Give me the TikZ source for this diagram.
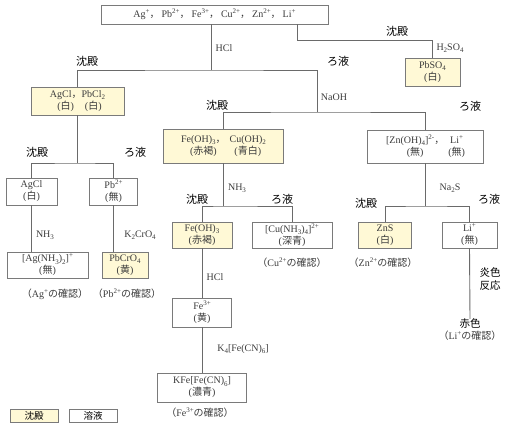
\documentclass[tikz,border=0pt]{standalone}
\usepackage{fontspec}
\setmainfont{Liberation Serif}
\newfontfamily\jp{Noto Sans CJK JP}

\definecolor{boxline}{HTML}{7A7A7A}
\definecolor{linegray}{HTML}{6A6A6A}
\definecolor{pptfill}{HTML}{FFF9D6}
\definecolor{txtgray}{HTML}{3C3C3C}

% 化学式の添字
\newcommand{\chsb}[1]{\raisebox{-0.22em}{\fontsize{7}{7}\selectfont #1}}
\newcommand{\chsp}[1]{\raisebox{0.4em}{\fontsize{7}{7}\selectfont #1}}
\newcommand{\jc}{{\jp ，}\hspace{2pt}}

\tikzset{
  sol/.style={draw=boxline, line width=0.8pt, fill=white, text=txtgray, align=center, inner sep=0pt,
    font=\fontsize{10}{12}\selectfont},
  ppt/.style={sol, fill=pptfill},
  reag/.style={text=txtgray, inner sep=0pt, font=\fontsize{10}{11}\selectfont},
  sep/.style={inner sep=0pt, font=\jp\fontsize{11}{12}\selectfont},
  note/.style={text=txtgray, inner sep=0pt, align=center, font=\fontsize{10}{11}\selectfont},
  link/.style={draw=linegray, line width=0.9pt}
}

\begin{document}
\begin{tikzpicture}[x=1pt,y=-1pt]
  \useasboundingbox (0,0) rectangle (510,430);

  % はじめの溶液
  \node[sol, minimum width=227pt, minimum height=19pt] (ions) at (214.5,14.5)
    {Ag\chsp{+}\jc Pb\chsp{2+}\jc Fe\chsp{3+}\jc Cu\chsp{2+}\jc Zn\chsp{2+}\jc Li\chsp{+}};

  % 分岐点
  \coordinate (j1) at (211,70);
  \coordinate (j2) at (317,112);
  \coordinate (j3) at (77.5,163);
  \coordinate (j4) at (223.5,206);
  \coordinate (j5) at (425.5,206);
  \coordinate (j6) at (297,40);

  % 1段目
  \node[ppt, minimum width=55pt, minimum height=28pt] (pbso4) at (432.5,72)
    {PbSO\chsb{4}\\({\jp 白})};
  \node[ppt, minimum width=93pt, minimum height=28pt] (agpb) at (77.5,101)
    {\begin{tabular}{@{}c@{}c@{}}AgCl\jc & PbCl\chsb{2}\\ ({\jp 白}) & ({\jp 白})\end{tabular}};

  % 2段目
  \node[ppt, minimum width=120pt, minimum height=34pt] (fecu) at (223.5,146)
    {\begin{tabular}{@{}c@{\hspace{4pt}}c@{}}Fe(OH)\chsb{3}\jc & Cu(OH)\chsb{2}\\ ({\jp 赤褐}) & ({\jp 青白})\end{tabular}};
  \node[sol, minimum width=116pt, minimum height=33pt] (zn) at (425.5,146.5)
    {\begin{tabular}{@{}c@{\hspace{4pt}}c@{}}[Zn(OH)\chsb{4}]\chsp{2-}\jc & Li\chsp{+}\\ ({\jp 無}) & ({\jp 無})\end{tabular}};
  \node[sol, minimum width=51pt, minimum height=27pt] (agcl) at (31.5,191.5)
    {AgCl\\({\jp 白})};
  \node[sol, minimum width=48pt, minimum height=27pt] (pb) at (113.5,191.5)
    {Pb\chsp{2+}\\({\jp 無})};

  % 3段目
  \node[ppt, minimum width=60pt, minimum height=26pt] (feoh) at (202,235)
    {Fe(OH)\chsb{3}\\({\jp 赤褐})};
  \node[sol, minimum width=80pt, minimum height=26pt] (cunh) at (292,235)
    {[Cu(NH\chsb{3})\chsb{4}]\chsp{2+}\\({\jp 深青})};
  \node[ppt, minimum width=53pt, minimum height=26pt] (zns) at (385,235)
    {ZnS\\({\jp 白})};
  \node[sol, minimum width=55pt, minimum height=26pt] (li) at (469.5,235)
    {Li\chsp{+}\\({\jp 無})};
  \node[sol, minimum width=81pt, minimum height=26pt] (agnh) at (47.5,265)
    {[Ag(NH\chsb{3})\chsb{2}]\chsp{+}\\({\jp 無})};
  \node[ppt, minimum width=46pt, minimum height=26pt] (pbcro4) at (125,265)
    {PbCrO\chsb{4}\\({\jp 黄})};

  % 鉄の確認
  \node[sol, minimum width=59pt, minimum height=29pt] (fe3) at (202,312.5)
    {Fe\chsp{3+}\\({\jp 黄})};
  \node[sol, minimum width=89pt, minimum height=29pt] (kfe) at (202,387.5)
    {KFe[Fe(CN)\chsb{6}]\\({\jp 濃青})};

  % 炎色反応
  \node[inner sep=0pt, font=\jp\fontsize{10.5}{11}\selectfont] (red) at (470,324) {赤色};

  % 線
  \draw[link] (ions.south -| j1) -- (j1);
  \draw[link] (agpb.north) |- (j1) -| (j2);
  \draw[link] (ions.south -| j6) -- (j6) -| (pbso4.north);
  \draw[link] (agpb.south) -- (j3);
  \draw[link] (agcl.north) |- (j3) -| (pb.north);
  \draw[link] (agcl.south) -- (agcl.south |- agnh.north);
  \draw[link] (pb.south) -- (pb.south |- pbcro4.north);
  \draw[link] (fecu.north) |- (j2) -| (zn.north);
  \draw[link] (fecu.south) -- (j4);
  \draw[link] (feoh.north) |- (j4) -| (cunh.north);
  \draw[link] (feoh.south) -- (fe3.north);
  \draw[link] (fe3.south) -- (kfe.north);
  \draw[link] (zn.south) -- (j5);
  \draw[link] (zns.north) |- (j5) -| (li.north);
  \draw[link] (li.south) -- (red.north);

  % 試薬
  \node[reag] (r1) at (224,48) {HCl};
  \node[reag] (r2) at (450,48) {H\chsb{2}SO\chsb{4}};
  \node[reag] (r3) at (334,97) {NaOH};
  \node[reag] (r4) at (237,188) {NH\chsb{3}};
  \node[reag] (r5) at (450,188) {Na\chsb{2}S};
  \node[reag] (r6) at (45,235) {NH\chsb{3}};
  \node[reag] (r7) at (140,235) {K\chsb{2}CrO\chsb{4}};
  \node[reag] (r8) at (215,277) {HCl};
  \node[reag] (r9) at (243,349) {K\chsb{4}[Fe(CN)\chsb{6}]};
  \node[inner sep=0pt, align=center, font=\jp\fontsize{10.5}{12.5}\selectfont] (r10) at (490,279) {炎色\\反応};

  % 沈殿とろ液
  \node[sep] (s1) at (397,31) {沈殿};
  \node[sep] (s2) at (87,61) {沈殿};
  \node[sep] (s3) at (338,61) {ろ液};
  \node[sep] (s4) at (217,105) {沈殿};
  \node[sep] (s5) at (470,106) {ろ液};
  \node[sep] (s6) at (37,152) {沈殿};
  \node[sep] (s7) at (135,152) {ろ液};
  \node[sep] (s8) at (197,199) {沈殿};
  \node[sep] (s9) at (282,199) {ろ液};
  \node[sep] (s10) at (366,203) {沈殿};
  \node[sep] (s11) at (489,199) {ろ液};

  % 確認
  \node[note] (c1) at (55,294) {{\jp （}Ag\chsp{+}{\jp の確認）}};
  \node[note] (c2) at (127,294) {{\jp （}Pb\chsp{2+}{\jp の確認）}};
  \node[note] (c3) at (292,263) {{\jp （}Cu\chsp{2+}{\jp の確認）}};
  \node[note] (c4) at (383,263) {{\jp （}Zn\chsp{2+}{\jp の確認）}};
  \node[note] (c5) at (200,413) {{\jp （}Fe\chsp{3+}{\jp の確認）}};
  \node[note] (c6) at (470,336) {{\jp （}Li\chsp{+}{\jp の確認）}};

  % 凡例
  \node[ppt, text=black, minimum width=48pt, minimum height=13pt, font=\jp\fontsize{9.5}{10}\selectfont] (leg1) at (34,415.5) {沈殿};
  \node[sol, text=black, minimum width=48pt, minimum height=13pt, font=\jp\fontsize{9.5}{10}\selectfont] (leg2) at (93,415.5) {溶液};
\end{tikzpicture}
\end{document}
